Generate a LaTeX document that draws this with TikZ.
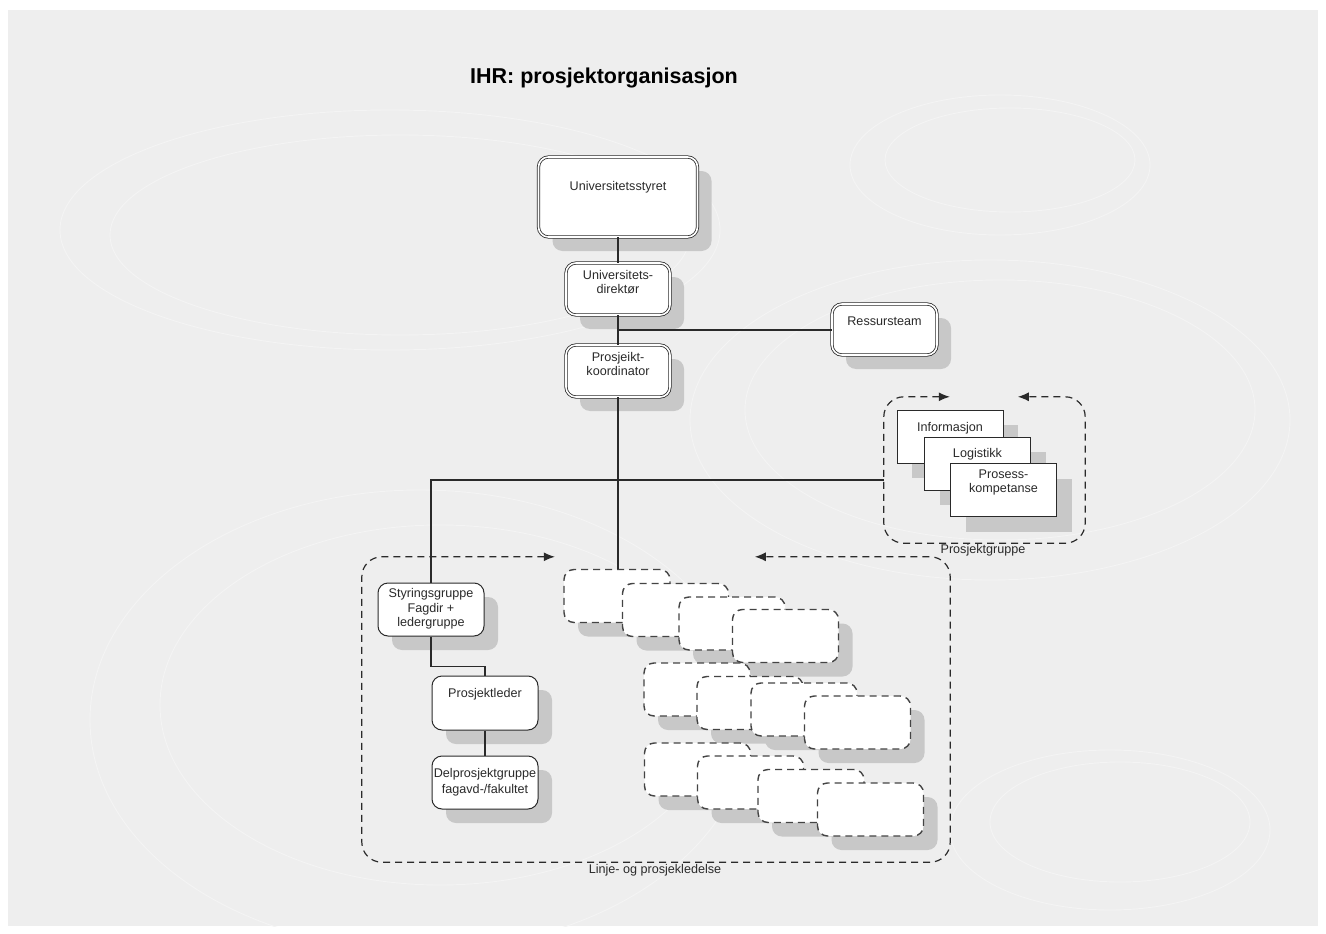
\documentclass[tikz,border=0pt]{standalone}
\usepackage{fontspec}
\setmainfont{Liberation Sans}
\usetikzlibrary{shadows,arrows.meta,calc}
\definecolor{bg}{HTML}{EEEEEE}
\definecolor{shd}{HTML}{C8C8C8}
\definecolor{ln}{HTML}{2A2A2A}
\definecolor{dl}{HTML}{444444}
\definecolor{swirl}{HTML}{F4F4F4}
\begin{document}
\begin{tikzpicture}[x=1pt,y=-1pt,
  font=\fontsize{12.6}{14.5}\selectfont,
  shad/.style={drop shadow={shadow xshift=14pt,shadow yshift=-14pt,fill=shd,opacity=1}},
  dbl/.style={shad,draw=ln,line width=0.8pt,double=white,double distance=1.6pt,fill=white,rounded corners=10pt,inner sep=0pt},
  plainbox/.style={shad,draw=ln,line width=1pt,fill=white,rounded corners=10pt,inner sep=0pt},
  infobox/.style={drop shadow={shadow xshift=15pt,shadow yshift=-15pt,fill=shd,opacity=1},draw=ln,line width=1pt,fill=white,inner sep=0pt,minimum width=106pt,minimum height=53pt},
  dbox/.style={shad,draw=dl,line width=1.4pt,dash pattern=on 7pt off 5pt,fill=white,rounded corners=10pt,inner sep=0pt,minimum width=106pt,minimum height=53pt},
  cont/.style={draw=ln,line width=1.2pt,dash pattern=on 7pt off 5pt,rounded corners=20pt,{Latex[length=11pt,width=9pt]}-{Latex[length=11pt,width=9pt]}},
  area/.style={inner sep=0pt},
  conn/.style={draw=ln,line width=1.1pt},
  txt/.style={inner sep=0pt,align=center,text=ln},
  swl/.style={draw=swirl,line width=0.9pt}
]
% background
\useasboundingbox (0,0) rectangle (1326,934);
\fill[white] (0,0) rectangle (1326,934);
\fill[bg] (8,10) rectangle (1318,926);
% faint decorative swirls
\begin{scope}
\clip (8,10) rectangle (1318,926);
\draw[swl] (390,230) ellipse [x radius=330,y radius=120];
\draw[swl] (400,235) ellipse [x radius=290,y radius=100];
\draw[swl] (1000,165) ellipse [x radius=150,y radius=70];
\draw[swl] (1010,160) ellipse [x radius=125,y radius=52];
\draw[swl] (990,420) ellipse [x radius=300,y radius=160];
\draw[swl] (1000,410) ellipse [x radius=255,y radius=130];
\draw[swl] (420,720) ellipse [x radius=330,y radius=230];
\draw[swl] (440,705) ellipse [x radius=280,y radius=180];
\draw[swl] (1110,830) ellipse [x radius=160,y radius=80];
\draw[swl] (1120,822) ellipse [x radius=130,y radius=60];
\end{scope}

% title
\node[font=\bfseries\fontsize{21.5}{26}\selectfont,text=black,inner sep=0pt] (title) at (604,78) {IHR: prosjektorganisasjon};

% top chain
\node[dbl,minimum width=159pt,minimum height=80pt] (us) at (618,197) {};
\node[txt] (tus) at (618,187) {Universitetsstyret};
\node[dbl,minimum width=104pt,minimum height=52pt] (ud) at (618,289) {};
\node[txt] (tud) at (618,282) {Universitets-\\direktør};
\node[dbl,minimum width=104pt,minimum height=52pt] (pk) at (618,371) {};
\node[txt] (tpk) at (618,364) {Prosjeikt-\\koordinator};
\node[dbl,minimum width=105pt,minimum height=51pt] (rt) at (884.5,329.5) {};
\node[txt] (trt) at (884.5,321) {Ressursteam};

% Prosjektgruppe container
\node[area,minimum width=201pt,minimum height=146pt] (pg) at (984.5,470) {};
\draw[cont] ($(pg.north west)+(66,0)$) -- (pg.north west) -- (pg.south west) -- (pg.south east) -- (pg.north east) -- ($(pg.north west)+(134,0)$);
\node[txt] (tpg) at (983,550) {Prosjektgruppe};
\node[infobox] (in) at (950,436.5) {};
\node[txt] (tin) at (950,428) {Informasjon};
\node[infobox] (lo) at (977.5,463.5) {};
\node[txt] (tlo) at (977.5,454) {Logistikk};
\node[infobox] (pr) at (1003.5,490) {};
\node[txt] (tpr) at (1003.5,482.5) {Prosess-\\kompetanse};

% Linje- og prosjektledelse container
\node[area,minimum width=588pt,minimum height=305pt] (lb) at (656,709.5) {};
\draw[cont] ($(lb.north west)+(193,0)$) -- (lb.north west) -- (lb.south west) -- (lb.south east) -- (lb.north east) -- ($(lb.north west)+(393,0)$);
\node[txt] (tlb) at (655,870) {Linje- og prosjekledelse};

% left chain
\node[plainbox,minimum width=106pt,minimum height=53pt] (sg) at (431,609.5) {};
\node[txt] (tsg) at (431,609) {Styringsgruppe\\Fagdir +\\ledergruppe};
\node[plainbox,minimum width=106pt,minimum height=54pt] (pl) at (485,703) {};
\node[txt] (tpl) at (485,694) {Prosjektleder};
\node[plainbox,minimum width=106pt,minimum height=53pt] (dp) at (485,782.5) {};
\node[txt,font=\fontsize{12.6}{16}\selectfont] (tdp) at (485,782) {Delprosjektgruppe\\fagavd-/fakultet};

% empty dashed boxes
\node[dbox] (b1) at (617,596) {};
\node[dbox] (b2) at (675.5,610) {};
\node[dbox] (b3) at (732,623.5) {};
\node[dbox] (b4) at (785.5,636) {};
\node[dbox] (b5) at (697,689.5) {};
\node[dbox] (b6) at (750,703) {};
\node[dbox] (b7) at (804,709.5) {};
\node[dbox] (b8) at (857.5,722.5) {};
\node[dbox] (b9) at (697.5,769.5) {};
\node[dbox] (b10) at (750.5,782.5) {};
\node[dbox] (b11) at (811,796) {};
\node[dbox] (b12) at (870.5,809.5) {};

% connectors
\draw[conn] (us) -- (ud);
\draw[conn] (ud) -- (pk);
\coordinate (j1) at ($(ud.south)!0.5!(pk.north)$);
\draw[conn] (j1) -- (j1 -| rt.west);
\draw[conn] (pk) -- (pk.south |- b1.north);
\coordinate (hl) at (431,480);
\draw[conn] (sg.north) -- (hl) -- (hl -| pg.west);
\draw[conn] (sg.south) -- ++(0,30) -| (pl.north);
\draw[conn] (pl) -- (dp);
\end{tikzpicture}
\end{document}
